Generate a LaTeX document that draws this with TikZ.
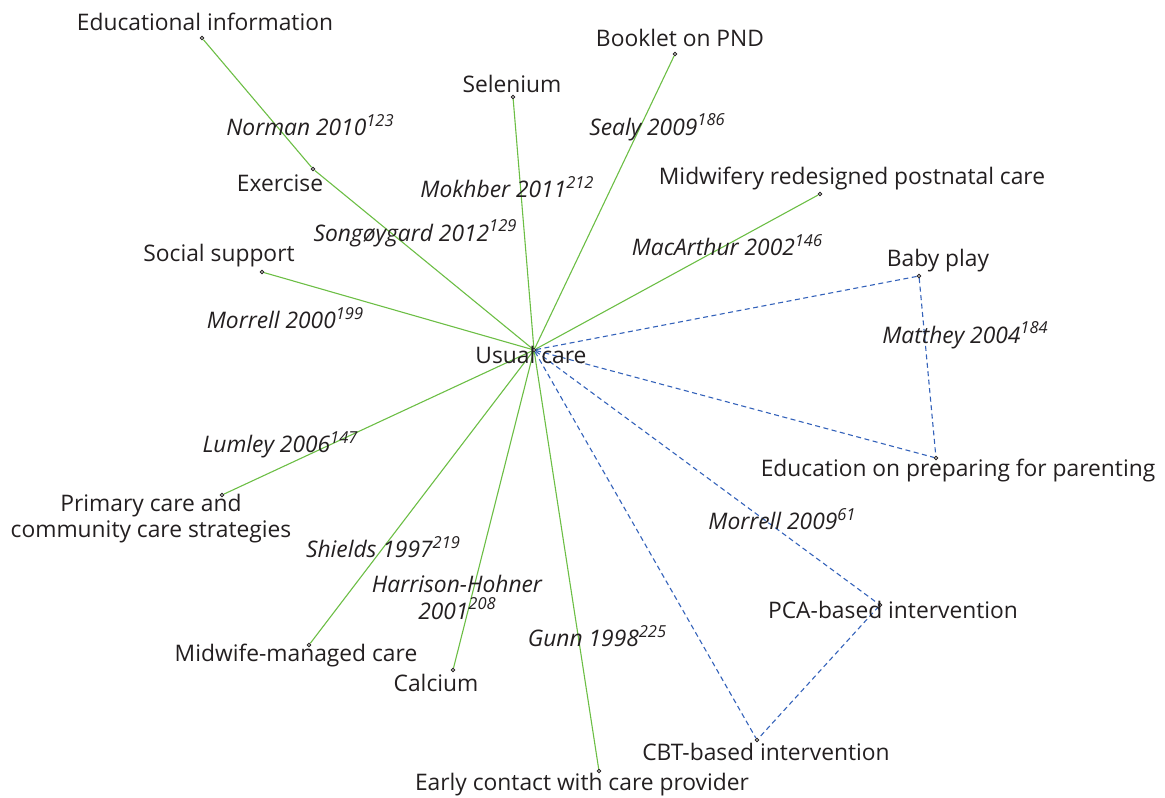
\documentclass[tikz,border=0pt]{standalone}
\usepackage{fontspec}
\setmainfont{Open Sans}
\definecolor{lgreen}{RGB}{108,190,69}
\definecolor{lblue}{RGB}{52,98,186}
\definecolor{txt}{RGB}{35,31,32}
\newcommand{\sref}[1]{\raisebox{0.42em}{\fontsize{16.5}{16.5}\selectfont #1}}
\tikzset{
  pt/.style={circle,draw=txt,fill=white,inner sep=0pt,minimum size=3.4pt,line width=0.9pt},
  lab/.style={text=txt,font=\fontsize{22.8}{26}\selectfont,inner sep=0pt,align=center},
  cit/.style={text=txt,font=\fontsize{22.8}{27}\selectfont\itshape,inner sep=0pt,align=center},
  gline/.style={draw=lgreen,line width=1.1pt},
  bline/.style={draw=lblue,line width=1.1pt,dash pattern=on 5pt off 3.5pt}
}
\begin{document}
\begin{tikzpicture}[x=1pt,y=-1pt]
\useasboundingbox (0,0) rectangle (1165,798);
% points
\node[pt] (uc) at (534,350) {};
\node[pt] (edu) at (202,38) {};
\node[pt] (ex) at (313,169) {};
\node[pt] (soc) at (262,272) {};
\node[pt] (sel) at (513,97) {};
\node[pt] (book) at (675,54) {};
\node[pt] (mid) at (820,194) {};
\node[pt] (baby) at (919,276) {};
\node[pt] (par) at (936,458) {};
\node[pt] (pca) at (880,605) {};
\node[pt] (cbt) at (757,740) {};
\node[pt] (early) at (599,771) {};
\node[pt] (cal) at (453,670) {};
\node[pt] (mwm) at (309,645) {};
\node[pt] (prim) at (222,495) {};
% edges
\draw[gline] (edu) -- (ex);
\draw[gline] (ex) -- (uc);
\draw[gline] (soc) -- (uc);
\draw[gline] (sel) -- (uc);
\draw[gline] (book) -- (uc);
\draw[gline] (mid) -- (uc);
\draw[gline] (prim) -- (uc);
\draw[gline] (mwm) -- (uc);
\draw[gline] (cal) -- (uc);
\draw[gline] (early) -- (uc);
\draw[bline] (uc) -- (baby);
\draw[bline] (uc) -- (par);
\draw[bline] (baby) -- (par);
\draw[bline] (uc) -- (pca);
\draw[bline] (uc) -- (cbt);
\draw[bline] (pca) -- (cbt);
% labels
\node[lab] (tuc) at (531,355) {Usual care};
\node[lab] (tedu) at (205,22) {Educational information};
\node[lab] (tex) at (280,183) {Exercise};
\node[lab] (tsoc) at (219,256) {Social support};
\node[lab] (tsel) at (512,84) {Selenium};
\node[lab] (tbook) at (680,38) {Booklet on PND};
\node[lab] (tmid) at (852,179) {Midwifery redesigned postnatal care};
\node[lab] (tbaby) at (938,261) {Baby play};
\node[lab] (tpar) at (958,471) {Education on preparing for parenting};
\node[lab] (tpca) at (893,610) {PCA-based intervention};
\node[lab] (tcbt) at (766,752) {CBT-based intervention};
\node[lab] (tearly) at (582,785) {Early contact with care provider};
\node[lab] (tcal) at (436,683) {Calcium};
\node[lab] (tmwm) at (296,656) {Midwife-managed care};
\node[lab] (tprim) at (151,519) {Primary care and\\community care strategies};
% citations
\node[cit] (c1) at (310,125) {Norman 2010\sref{123}};
\node[cit] (c2) at (415,233) {Songøygard 2012\sref{129}};
\node[cit] (c3) at (285,318) {Morrell 2000\sref{199}};
\node[cit] (c4) at (507,187) {Mokhber 2011\sref{212}};
\node[cit] (c5) at (657,127) {Sealy 2009\sref{186}};
\node[cit] (c6) at (727,245) {MacArthur 2002\sref{146}};
\node[cit] (c7) at (965,335) {Matthey 2004\sref{184}};
\node[cit] (c8) at (280,445) {Lumley 2006\sref{147}};
\node[cit] (c9) at (782,519) {Morrell 2009\sref{61}};
\node[cit] (c10) at (383,547) {Shields 1997\sref{219}};
\node[cit] (c11) at (457,597) {Harrison-Hohner\\2001\sref{208}};
\node[cit] (c12) at (597,636) {Gunn 1998\sref{225}};
\end{tikzpicture}
\end{document}
